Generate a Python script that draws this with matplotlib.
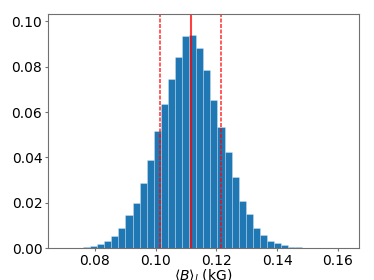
import numpy as np
import matplotlib
matplotlib.use("Agg")
import matplotlib.pyplot as plt

# Histogram data (fraction per bin), 40 equal bins
bin_lo = 0.0691
bin_hi = 0.1623
n_bins = 40
heights = [0.0, 0.0, 0.0001, 0.0003, 0.0008, 0.0018, 0.0030, 0.0052, 0.0089, 0.0144,
           0.0197, 0.0287, 0.0389, 0.0515, 0.0634, 0.0746, 0.0843, 0.0936, 0.0940, 0.0884,
           0.0784, 0.0653, 0.0536, 0.0424, 0.0313, 0.0208, 0.0150, 0.0087, 0.0056, 0.0033,
           0.0022, 0.0013, 0.0006, 0.0003, 0.0001, 0.0, 0.0, 0.0, 0.0, 0.0]
median = 0.1115
lower = 0.1014
upper = 0.1216
xticks = [0.08, 0.10, 0.12, 0.14, 0.16]
yticks = [0.00, 0.02, 0.04, 0.06, 0.08, 0.10]

plt.rcParams['font.family'] = ['DejaVu Sans']
plt.rcParams['font.size'] = 10

fig = plt.figure(figsize=(3.74, 2.80), dpi=100)
ax = fig.add_axes([0.128, 0.114, 0.832, 0.836])

edges = np.linspace(bin_lo, bin_hi, n_bins + 1)
centers = 0.5 * (edges[:-1] + edges[1:])
ax.hist(centers, bins=edges, weights=heights, color='#1f77b4',
        edgecolor=(1, 1, 1, 0.3), linewidth=0.6)

ax.axvline(median, color='red', alpha=0.75, lw=1.5)
ax.axvline(lower, color='red', alpha=0.75, lw=1.2, linestyle=(0, (2.4, 0.9)))
ax.axvline(upper, color='red', alpha=0.75, lw=1.2, linestyle=(0, (2.4, 0.9)))

ax.set_xlim(0.0645, 0.1670)
ax.set_ylim(0, 0.1033)
ax.set_xticks(xticks)
ax.set_xticklabels([f"{v:.2f}" for v in xticks])
ax.set_yticks(yticks)
ax.set_yticklabels([f"{v:.2f}" for v in yticks])
ax.set_xlabel(r'$\langle B\rangle_l$ (kG)', labelpad=0)

for s in ax.spines.values():
    s.set_color('#707070')
ax.tick_params(colors='#707070', labelcolor='black', length=2, pad=2)

fig.savefig('out.png', dpi=100)
